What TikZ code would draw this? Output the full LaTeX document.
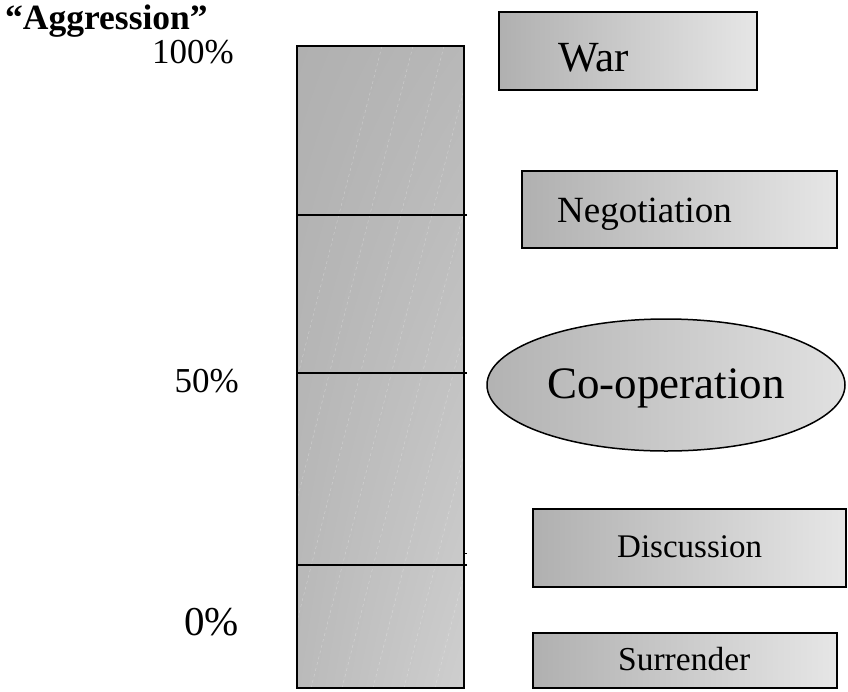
\documentclass[tikz,border=0pt]{standalone}
\usepackage{fontspec}
\setmainfont{Liberation Serif}
\usetikzlibrary{shapes.geometric,shadings}
\newcommand{\fs}[1]{\fontsize{#1}{#1}\selectfont}
\tikzset{
  gbox/.style={draw=black, line width=1.5pt, inner sep=0pt, left color=boxdark, right color=boxlight, shading angle=90},
  lbl/.style={inner sep=0pt, anchor=base west},
  divider/.style={draw=black, line width=1.5pt},
}
\definecolor{boxdark}{HTML}{B0B0B0}
\definecolor{boxlight}{HTML}{E6E6E6}
\begin{document}
\begin{tikzpicture}[x=1pt,y=-1pt]
\useasboundingbox (0,0) rectangle (848,691);
% bar
\node[inner sep=0pt, minimum width=167pt, minimum height=642pt,
  upper left=black!31, upper right=black!28, lower left=black!27, lower right=black!19]
  (bar) at (380.5,367) {};
\begin{scope}
\clip (297,46) rectangle (464,688);
\foreach \k in {0,...,13}{
  \draw[white, opacity=0.3, dashed, line width=0.5pt] (382+31*\k,46) -- (382+31*\k-164,688);
}
\end{scope}
\draw[line width=1.8pt] (bar.north west) rectangle (bar.south east);
\coordinate (d1l) at (297,215); \coordinate (d1r) at (467,215);
\coordinate (d2l) at (297,373); \coordinate (d2r) at (467,373);
\coordinate (d3l) at (297,565); \coordinate (d3r) at (467,565);
\coordinate (tkl) at (464,553); \coordinate (tkr) at (467,553);
\draw[divider] (d1l) -- (d1r);
\draw[divider] (d2l) -- (d2r);
\draw[divider] (d3l) -- (d3r);
\draw[line width=0.8pt] (tkl) -- (tkr);
% axis labels
\node[lbl, font=\bfseries\fs{35.5}] (agg) at (5,29) {“Aggression”};
\node[inner sep=0pt, anchor=base east, font=\fs{35}] (p100) at (234,63) {100\%};
\node[inner sep=0pt, anchor=base east, font=\fs{35}] (p50) at (239,392) {50\%};
\node[inner sep=0pt, anchor=base east, font=\fs{41}] (p0) at (239,635) {0\%};
% boxes
\node[gbox, minimum width=258pt, minimum height=78pt] (war) at (628,51) {};
\node[lbl, font=\fs{43}] (wart) at (558,71) {War};
\node[gbox, minimum width=315pt, minimum height=77pt] (neg) at (679.5,209.5) {};
\node[lbl, font=\fs{37}] (negt) at (557,222) {Negotiation};
\node[gbox, ellipse, minimum width=358pt, minimum height=132pt, left color=black!30, right color=black!12] (coop) at (666,385) {};
\node[lbl, font=\fs{45}] (coopt) at (547,398) {Co-operation};
\node[gbox, minimum width=313pt, minimum height=78pt] (disc) at (689.5,548) {};
\node[lbl, font=\fs{33}] (disct) at (617,557) {Discussion};
\node[gbox, minimum width=304pt, minimum height=55pt] (surr) at (685,660.5) {};
\node[lbl, font=\fs{33.5}] (surrt) at (618,670) {Surrender};
\end{tikzpicture}
\end{document}
